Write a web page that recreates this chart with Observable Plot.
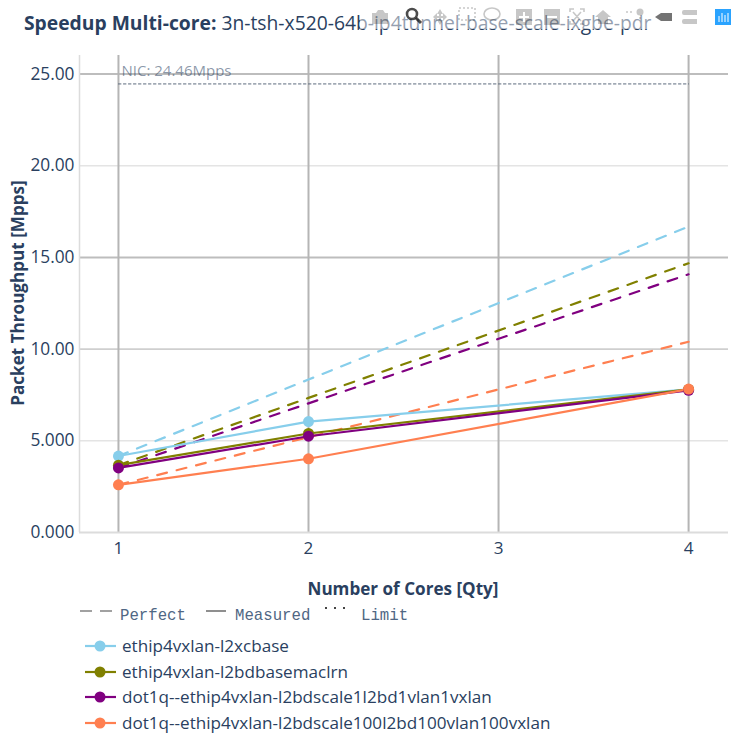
<!DOCTYPE html>
<html>
<head>
<meta charset="utf-8">
<script src="https://cdn.jsdelivr.net/npm/d3@7"></script>
<script src="https://cdn.jsdelivr.net/npm/@observablehq/plot@0.6"></script>
<style>
html,body{margin:0;padding:0;background:#fff;}
#wrap{position:relative;width:732px;height:733px;overflow:hidden;font-family:"Open Sans",sans-serif;color:#2a3f5f;}
#wrap svg.chart{position:absolute;left:0;top:0;}
.abs{position:absolute;white-space:nowrap;}
.style{font-family:"Liberation Mono",monospace;font-size:15.7px;color:#506784;top:607px;line-height:18px;}
.leg{left:122px;font-size:17.1px;line-height:22px;}
</style>
</head>
<body>
<div id="wrap"></div>
<script>
const seriesNames = ["ethip4vxlan-l2xcbase","ethip4vxlan-l2bdbasemaclrn","dot1q--ethip4vxlan-l2bdscale1l2bd1vlan1vxlan","dot1q--ethip4vxlan-l2bdscale100l2bd100vlan100vxlan"];
const seriesColors = ["#87ceeb","#808000","#800080","#ff7f50"];
const cores = [1,2,4];
const measuredA = [4.17,6.05,7.80];
const measuredB = [3.67,5.40,7.80];
const measuredC = [3.52,5.25,7.75];
const measuredD = [2.60,4.02,7.82];
const perfectA = [4.17,8.34,16.68];
const perfectB = [3.67,7.34,14.68];
const perfectC = [3.52,7.04,14.08];
const perfectD = [2.60,5.20,10.40];
const yTicks = [0,5,10,15,20,25];
const yTickLabels = ["0.000","5.000","10.00","15.00","20.00","25.00"];
const xTicks = [1,2,3,4];
const nicLimit = 24.46;
const limitCores = [1,4];

const measured = [measuredA,measuredB,measuredC,measuredD];
const perfect = [perfectA,perfectB,perfectC,perfectD];
const rows = (arrs) => arrs.flatMap((a,s)=>a.map((v,i)=>({x:cores[i],y:v,s})));
const mRows = rows(measured), pRows = rows(perfect);
const limitRows = limitCores.map(x=>({x,y:nicLimit}));
const color = d => seriesColors[d.s];

const chart = Plot.plot({
  width:732,height:600,
  marginLeft:79,marginRight:4,marginTop:55,marginBottom:68,
  style:{background:"transparent",fontFamily:"'Open Sans',sans-serif",color:"#2a3f5f",overflow:"visible"},
  x:{domain:[0.795,4.21],label:null},
  y:{domain:[0,26.01],label:null},
  marks:[
    Plot.ruleY([5,20],{stroke:"#e4e4e4",strokeWidth:1.5}),
    Plot.ruleY([10],{stroke:"#cfcfcf",strokeWidth:1.7}),
    Plot.ruleY([15,25],{stroke:"#bdbdbd",strokeWidth:2}),
    Plot.ruleX(xTicks,{stroke:"#b5b5b5",strokeWidth:2}),
    Plot.ruleY([0],{stroke:"#dcdcdc",strokeWidth:2}),
    Plot.ruleX([0.795],{stroke:"#dcdcdc",strokeWidth:1.5}),
    Plot.line(limitRows,{x:"x",y:"y",stroke:"#5d6b7e",strokeWidth:1,strokeDasharray:"2.5,2.5"}),
    Plot.text(["NIC: 24.46Mpps"],{x:[1],y:[nicLimit],text:d=>d,textAnchor:"start",dx:3,dy:-13,fontSize:15,fill:"#2a3f5f",fillOpacity:0.55}),
    Plot.line(pRows,{x:"x",y:"y",z:"s",stroke:color,strokeWidth:2.2,strokeDasharray:"10,10"}),
    Plot.line(mRows,{x:"x",y:"y",z:"s",stroke:color,strokeWidth:2.2}),
    Plot.dot(mRows,{x:"x",y:"y",fill:color,r:5.5}),
    Plot.axisX(xTicks,{anchor:"bottom",tickSize:0,tickPadding:9,fontSize:17.1,tickFormat:d=>String(d),fill:"#2a3f5f",label:null}),
    Plot.axisY(yTicks,{anchor:"left",tickSize:0,tickPadding:5,fontSize:17.3,tickFormat:(d,i)=>yTickLabels[i],fill:"#2a3f5f",label:null}),
  ]
});
chart.classList.add("chart");
const wrap = document.getElementById("wrap");
wrap.appendChild(chart);

const add=(cls,html,style)=>{const d=document.createElement("div");d.className="abs "+cls;d.innerHTML=html;if(style)d.style.cssText=style;wrap.appendChild(d);return d;};
add("","Packet Throughput [Mpps]","left:17px;top:293px;font-weight:700;font-size:17.1px;transform:translate(-50%,-50%) rotate(-90deg);");
add("","Number of Cores [Qty]","left:403px;top:588px;font-weight:700;font-size:17.1px;transform:translate(-50%,-50%);");
add("","<b>Speedup Multi-core:</b> 3n-tsh-x520-64b-ip4tunnel-base-scale-ixgbe-pdr","left:24px;top:10px;font-size:19.3px;line-height:26px;");
add("style","Perfect","left:120px;");
add("style","Measured","left:235px;");
add("style","Limit","left:361px;");

let o='<svg class="abs" width="732" height="733" style="left:0;top:0;pointer-events:none">';
o+='<g stroke="#444" fill="none" stroke-width="1.2"><line x1="80" x2="112" y1="611" y2="611" stroke-dasharray="12,8"/><line x1="206" x2="226" y1="611" y2="611"/><line x1="325" x2="349" y1="608" y2="608" stroke-dasharray="2,7" stroke-width="1.8"/></g>';
[646,672,697,723].forEach((y,i)=>{o+=`<line x1="85" x2="116" y1="${y}" y2="${y}" stroke="${seriesColors[i]}" stroke-width="2.2"/><circle cx="100" cy="${y}" r="5.5" fill="${seriesColors[i]}"/>`;});
// faded mode-bar with translucent backing, drawn over the title as in the reference
o+='<rect x="360" y="0" width="372" height="29" fill="#fff" fill-opacity="0.5"/>';
o+='<g fill="#000" fill-opacity="0.22" stroke="none">'+
 '<path d="M372 13h4l2-3h5l2 3h3v11h-16z"/>'+
 '<path d="M433 17l4-4v3h2v-2h-2l3-5 3 5h-2v2h2v-3l4 4-4 4v-3h-2v2h2l-3 5-3-5h2v-2h-2v3z"/>'+
 '<path d="M516 9h16v16h-16zM523 12v4h-4v2h4v4h2v-4h4v-2h-4v-4z" fill-rule="evenodd"/>'+
 '<path d="M544 9h16v16h-16zM547 16v2h10v-2z" fill-rule="evenodd"/>'+
 '<path d="M595 17l8-7 8 7h-3v7h-10v-7z"/>'+
 '<circle cx="640" cy="12" r="3.5"/><circle cx="631" cy="12" r="1"/><circle cx="627" cy="12" r="1"/><circle cx="640" cy="18" r="1"/>'+
 '<path d="M682 12a2 2 0 0 1 2-2h13v5h-13a2 2 0 0 1-2-2zM682 21a2 2 0 0 1 2-2h13v5h-13a2 2 0 0 1-2-2z"/>'+
 '</g>'+
 '<path d="M655 17l6-4h11v8h-11z" fill="#000" fill-opacity="0.55"/>'+
 '<g fill="none" stroke="#000" stroke-opacity="0.22" stroke-width="1.6">'+
 '<rect x="459" y="8" width="16" height="12" stroke-dasharray="2,2"/>'+
 '<ellipse cx="492" cy="14" rx="8" ry="6"/>'+
 '<path d="M570 12v-3h4M580 9h4v3M584 21v3h-4M574 24h-4v-3M573 12l8 9M581 12l-8 9"/>'+
 '</g>'+
 '<circle cx="412" cy="14" r="5" fill="none" stroke="#000" stroke-opacity="0.7" stroke-width="2.6"/><line x1="416" y1="18" x2="421" y2="23" stroke="#000" stroke-opacity="0.7" stroke-width="3"/>'+
 '<rect x="715" y="9" width="16" height="16" fill="#2aa3ff"/><g stroke="#fff" stroke-width="1"><line x1="719" x2="719" y1="16" y2="22"/><line x1="722" x2="722" y1="13" y2="22"/><line x1="725" x2="725" y1="15" y2="22"/><line x1="728" x2="728" y1="13" y2="22"/></g>';
o+='</svg>';
wrap.insertAdjacentHTML("beforeend",o);
seriesNames.forEach((n,i)=>add("leg",n,`top:${[646,672,697,723][i]-11}px;`));
</script>
</body>
</html>
